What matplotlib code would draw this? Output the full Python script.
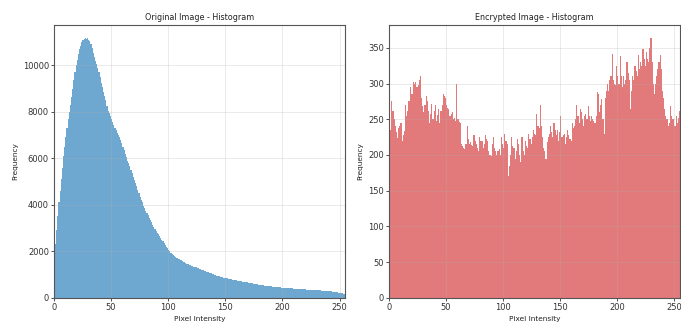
import numpy as np
import matplotlib
matplotlib.use("Agg")
import matplotlib.pyplot as plt

# ── data (256 bins per histogram) ───────────────────────────────────────────
orig_counts = [
    9800, 2300, 2900, 3500, 4100, 4600, 5100, 5600, 6100, 6500, 6900, 7300, 7700, 8000, 8300, 8650,
    9000, 9350, 9700, 10000, 10250, 10500, 10700, 10850, 11000, 11100, 11150, 11180, 11120, 11170, 11100, 11050,
    10900, 10750, 10550, 10350, 10200, 10050, 9900, 9700, 9500, 9250, 9050, 8850, 8700, 8500, 8250, 8050,
    7950, 7800, 7700, 7550, 7450, 7300, 7200, 7100, 7000, 6900, 6800, 6650, 6500, 6350, 6200, 6050,
    5900, 5800, 5650, 5500, 5350, 5200, 5050, 4950, 4800, 4650, 4500, 4350, 4200, 4100, 3950, 3850,
    3750, 3650, 3550, 3450, 3350, 3250, 3150, 3050, 2950, 2880, 2800, 2730, 2650, 2580, 2500, 2420,
    2350, 2270, 2200, 2130, 2050, 1990, 1940, 1890, 1840, 1800, 1760, 1720, 1690, 1660, 1630, 1610,
    1580, 1550, 1520, 1500, 1470, 1450, 1420, 1400, 1380, 1360, 1340, 1320, 1300, 1280, 1265, 1245,
    1225, 1205, 1185, 1165, 1145, 1125, 1105, 1085, 1065, 1045, 1025, 1005, 985, 970, 955, 940,
    925, 910, 895, 880, 865, 850, 840, 828, 816, 805, 795, 785, 775, 762, 750, 740,
    735, 725, 715, 705, 698, 690, 680, 672, 662, 655, 645, 636, 627, 618, 609, 600,
    592, 583, 575, 566, 558, 550, 541, 533, 524, 516, 510, 503, 497, 491, 485, 479,
    473, 467, 461, 455, 450, 444, 439, 433, 428, 424, 420, 416, 412, 408, 404, 400,
    396, 392, 388, 384, 380, 377, 373, 370, 367, 364, 361, 358, 355, 352, 349, 346,
    343, 340, 337, 334, 331, 328, 325, 321, 317, 313, 309, 305, 300, 295, 290, 285,
    280, 274, 268, 262, 256, 250, 243, 236, 228, 220, 210, 200, 188, 175, 162, 150,
]

enc_counts = [
    228, 235, 275, 262, 250, 240, 232, 224, 238, 240, 245, 220, 228, 233, 270, 255,
    262, 275, 295, 286, 285, 302, 300, 302, 295, 298, 305, 310, 280, 268, 260, 270,
    283, 276, 262, 245, 258, 272, 250, 262, 270, 248, 256, 265, 245, 262, 270, 285,
    282, 280, 270, 266, 265, 255, 258, 260, 250, 252, 248, 300, 250, 246, 245, 215,
    212, 210, 208, 215, 240, 222, 215, 218, 214, 213, 228, 220, 215, 210, 205, 225,
    220, 220, 210, 215, 228, 222, 220, 205, 200, 198, 215, 225, 210, 205, 200, 205,
    208, 200, 225, 215, 210, 230, 220, 215, 170, 185, 200, 225, 212, 210, 195, 205,
    222, 215, 200, 190, 225, 205, 200, 220, 212, 210, 230, 222, 215, 225, 235, 230,
    228, 258, 240, 238, 270, 240, 225, 210, 205, 195, 218, 225, 230, 240, 232, 225,
    245, 235, 228, 235, 220, 232, 255, 225, 228, 230, 215, 225, 235, 228, 222, 220,
    245, 238, 240, 250, 270, 255, 245, 265, 260, 250, 240, 255, 258, 250, 268, 255,
    248, 255, 250, 248, 245, 255, 288, 285, 260, 270, 278, 250, 230, 280, 290, 300,
    290, 305, 310, 342, 305, 300, 298, 325, 310, 300, 338, 310, 295, 310, 300, 305,
    330, 315, 305, 265, 290, 310, 305, 325, 318, 310, 340, 320, 330, 325, 348, 335,
    325, 345, 335, 330, 350, 364, 330, 300, 285, 300, 310, 320, 330, 340, 320, 290,
    280, 265, 255, 250, 240, 245, 268, 255, 250, 250, 240, 255, 245, 252, 262, 245,
]

titles = ["Original Image - Histogram", "Encrypted Image - Histogram"]
colors = ["#6ea8d1", "#e27a7b"]

bins = np.arange(256)

fig = plt.figure(figsize=(6.81, 3.22), dpi=100)
ax1 = fig.add_axes([0.079, 0.0755, 0.428, 0.847])
ax2 = fig.add_axes([0.5712, 0.0755, 0.4275, 0.847])

for ax, counts, title, color in zip([ax1, ax2], [orig_counts, enc_counts], titles, colors):
    ax.bar(bins, counts, width=1.0, align="edge", color=color, linewidth=0)
    ax.set_xlim(0, 255)
    ax.set_ylim(0, max(counts) * 1.05)
    ax.set_xticks([0, 50, 100, 150, 200, 250])
    ax.set_title(title, fontsize=5.8, pad=3.5, color="#222222")
    ax.set_xlabel("Pixel Intensity", fontsize=5.3, labelpad=3, color="#222222")
    ax.set_ylabel("Frequency", fontsize=5.3, labelpad=3.5, color="#222222")
    ax.tick_params(labelsize=6, length=2.2, width=0.6, pad=1.3, colors="#333333")
    ax.grid(True, alpha=0.3, linewidth=0.6)
    for s in ax.spines.values():
        s.set_color("#555555")
        s.set_linewidth(0.8)

ax2.set_yticks([0, 50, 100, 150, 200, 250, 300, 350])

fig.savefig("out.png", dpi=100)
